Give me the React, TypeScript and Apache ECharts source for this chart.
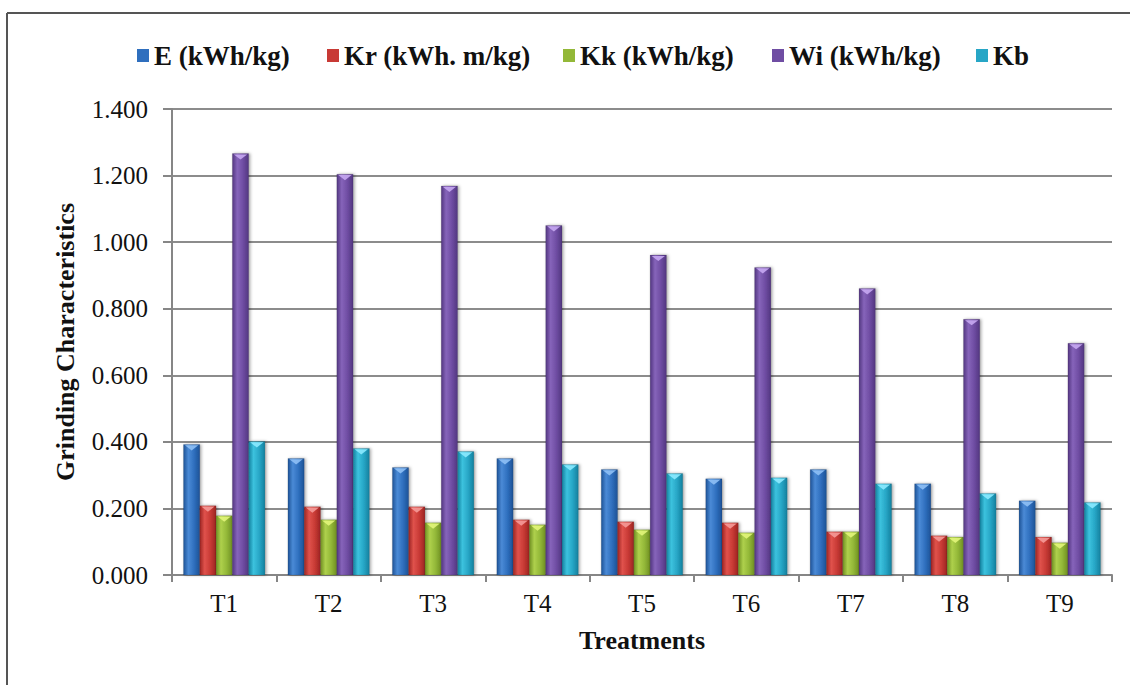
import React, { useEffect, useRef } from "react";
import * as echarts from "echarts";

// Treatments on the category axis
const categories = ["T1", "T2", "T3", "T4", "T5", "T6", "T7", "T8", "T9"];

// Grinding characteristics per treatment
const E = [0.392, 0.35, 0.323, 0.35, 0.317, 0.289, 0.317, 0.274, 0.223];
const Kr = [0.208, 0.205, 0.205, 0.166, 0.16, 0.157, 0.13, 0.118, 0.114];
const Kk = [0.178, 0.166, 0.157, 0.151, 0.136, 0.127, 0.13, 0.114, 0.097];
const Wi = [1.266, 1.204, 1.169, 1.05, 0.961, 0.924, 0.861, 0.768, 0.696];
const Kb = [0.401, 0.38, 0.371, 0.332, 0.305, 0.292, 0.274, 0.245, 0.218];

const seriesNames = ["E (kWh/kg)", "Kr (kWh. m/kg)", "Kk (kWh/kg)", "Wi (kWh/kg)", "Kb"];
const seriesValues = [E, Kr, Kk, Wi, Kb];

// left edge of each legend entry
const legendLefts = [132, 322, 558, 767, 971];

// dark edge, light centre, cap colour
const palettes = [
  { base: "#2f6fbe", dark: "#1d5296", light: "#4a8ad6", cap: "#8fc0f5" },
  { base: "#c83a35", dark: "#9c2422", light: "#e0524c", cap: "#f59a98" },
  { base: "#93b838", dark: "#6f8f22", light: "#aed04c", cap: "#e2f57a" },
  { base: "#6f4da3", dark: "#523680", light: "#8664ba", cap: "#c7a8f2" },
  { base: "#27a6c6", dark: "#14809e", light: "#3cc2de", cap: "#8ceaff" },
];

const serif = "Liberation Serif, serif";
const axisGray = "#868686";

export default function App() {
  const ref = useRef<HTMLDivElement>(null);

  useEffect(() => {
    if (!ref.current) return;
    const chart = echarts.init(ref.current, undefined, { renderer: "svg" });

    const n = seriesValues.length;

    const makeRender = (sIdx: number) => (params: any, api: any) => {
      const cat = api.value(0);
      const val = api.value(1);
      const base = api.coord([cat, 0]);
      const top = api.coord([cat, val]);
      const bandW = api.size([1, 0])[0];
      const barW = bandW * 0.156;
      const x0 = base[0] - (barW * n) / 2 + sIdx * barW;
      const h = base[1] - top[1];
      const p = palettes[sIdx];
      const capH = Math.min(6, h);
      return {
        type: "group",
        children: [
          {
            type: "rect",
            shape: { x: x0, y: top[1], width: barW, height: h },
            style: {
              fill: new echarts.graphic.LinearGradient(0, 0, 1, 0, [
                { offset: 0, color: p.dark },
                { offset: 0.3, color: p.light },
                { offset: 0.65, color: p.base },
                { offset: 1, color: p.dark },
              ]),
              stroke: "rgba(0,0,0,0.18)",
              lineWidth: 0.6,
              shadowBlur: 3,
              shadowOffsetX: 1.5,
              shadowOffsetY: 0,
              shadowColor: "rgba(0,0,0,0.35)",
            },
          },
          {
            type: "polygon",
            shape: {
              points: [
                [x0 + 1.5, top[1] + 0.8],
                [x0 + barW - 1.5, top[1] + 0.8],
                [x0 + barW / 2, top[1] + capH],
              ],
            },
            style: { fill: p.cap, opacity: 0.9 },
          },
        ],
      };
    };

    chart.setOption({
      animation: false,
      backgroundColor: "#ffffff",
      legend: seriesNames.map((name, i) => ({
        left: legendLefts[i],
        top: 37,
        itemWidth: 12,
        itemHeight: 13,
        icon: "rect",
        textStyle: {
          fontFamily: serif,
          fontWeight: "bold",
          fontSize: 27,
          color: "#111",
        },
        data: [name],
      })),
      grid: { left: 172, right: 18, top: 109, bottom: 110 },
      xAxis: {
        type: "category",
        data: categories,
        name: "Treatments",
        nameLocation: "middle",
        nameGap: 52,
        nameTextStyle: {
          fontFamily: serif,
          fontWeight: "bold",
          fontSize: 26,
          color: "#111",
        },
        axisLine: { lineStyle: { color: axisGray, width: 2 } },
        axisTick: { show: true, length: 7, lineStyle: { color: axisGray, width: 2 } },
        axisLabel: {
          fontFamily: serif,
          fontSize: 25,
          color: "#111",
          margin: 16,
        },
      },
      yAxis: {
        type: "value",
        min: 0,
        max: 1.4,
        interval: 0.2,
        name: "Grinding Characteristics",
        nameLocation: "middle",
        nameGap: 94,
        nameTextStyle: {
          fontFamily: serif,
          fontWeight: "bold",
          fontSize: 26,
          color: "#111",
        },
        axisLine: { show: true, lineStyle: { color: axisGray, width: 2 } },
        axisTick: { show: true, length: 9, lineStyle: { color: axisGray, width: 2 } },
        splitLine: { lineStyle: { color: "#8c8c8c", width: 2 } },
        axisLabel: {
          fontFamily: serif,
          fontSize: 25,
          color: "#111",
          margin: 24,
          formatter: (v: number) => v.toFixed(3),
        },
      },
      graphic: [
        {
          type: "line",
          shape: { x1: 7, y1: 13, x2: 1130, y2: 13 },
          style: { stroke: "#555", lineWidth: 2 },
        },
        {
          type: "line",
          shape: { x1: 7, y1: 13, x2: 7, y2: 685 },
          style: { stroke: "#555", lineWidth: 2 },
        },
      ],
      series: seriesValues.map((vals, sIdx) => ({
        type: "custom",
        name: seriesNames[sIdx],
        itemStyle: { color: palettes[sIdx].base },
        encode: { x: 0, y: 1 },
        data: vals.map((v, i) => [i, v]),
        renderItem: makeRender(sIdx),
      })),
    });

    return () => chart.dispose();
  }, []);

  return (
    <div
      ref={ref}
      style={{ position: "fixed", left: 0, top: 0, width: 1130, height: 685 }}
    />
  );
}
